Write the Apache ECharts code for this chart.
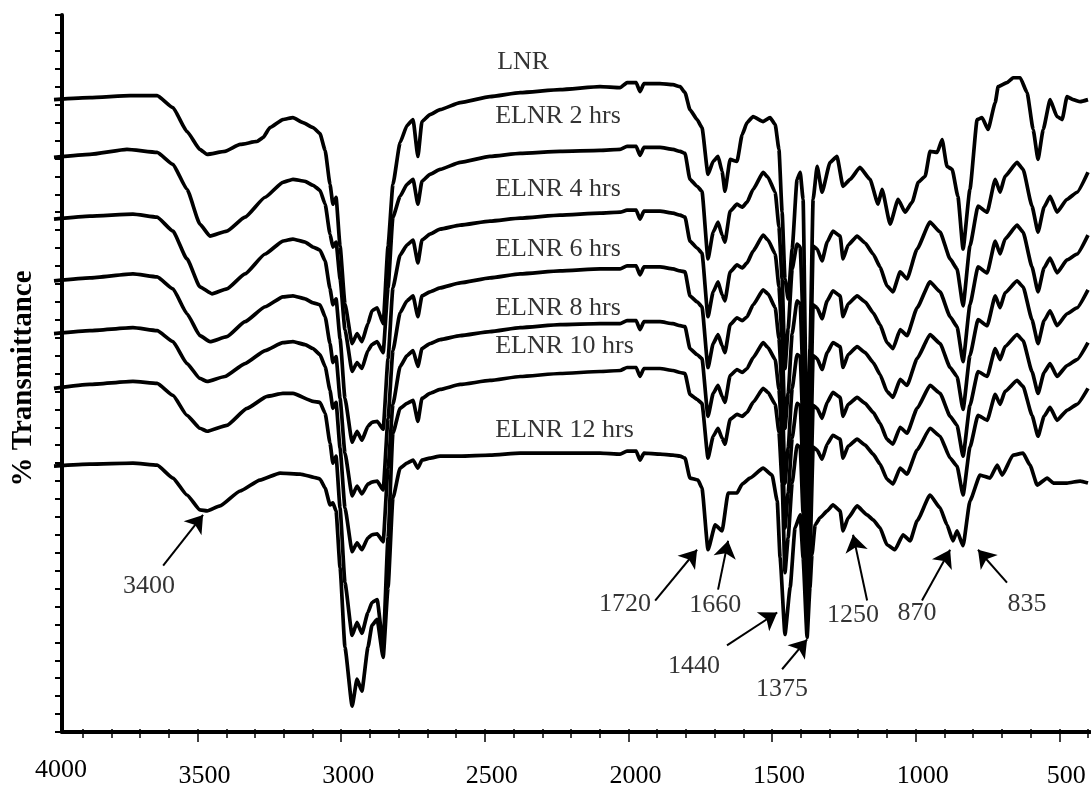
<!DOCTYPE html>
<html>
<head>
<meta charset="utf-8">
<title>FTIR spectra of LNR and ELNR</title>
<script src="https://cdn.jsdelivr.net/npm/echarts@6/dist/echarts.min.js"></script>
<style>
  html, body { margin: 0; padding: 0; background: #fff; }
  #chart { width: 1091px; height: 789px; }
</style>
</head>
<body>
<div id="chart"></div>
<script>
// FTIR spectra, wavenumber (cm-1) vs transmittance (a.u., spectra stacked with offsets)
const LNR = [
  [4000,632],[3875,634],[3735,636],[3641,636],[3586,624],[3537,600],[3492,582],[3467,577],[3405,580],[3352,587],
  [3293,590],[3272,594],[3248,604],[3203,612],[3168,614],[3133,609],[3098,604],
  [3074,598],[3056,581],[3039,547],[3029,527],[3018,534],[3004,485],[2987,427],[2962,387],[2945,397],[2928,389],
  [2907,407],[2893,420],[2875,423],[2854,407],[2837,485],[2820,547],[2795,589],[2771,606],[2750,612],[2733,575],
  [2719,610],[2691,617],[2656,622],
  [2586,629],[2482,635],[2377,639],[2238,642],[2099,645],[2029,644],[2005,649],[1973,649],[1960,640],[1946,648],
  [1890,648],[1845,647],[1820,645],
  [1803,639],[1786,622],[1761,612],[1744,604],[1723,557],[1705,570],[1688,575],[1674,560],[1664,540],[1646,572],
  [1622,570],[1604,597],[1587,609],[1566,615],[1531,610],[1507,614],[1489,607],[1476,582],[1465,519],[1455,452],
  [1444,432],[1430,482],[1413,552],[1402,559],[1392,532],[1378,262],[1368,382],[1357,532],[1343,565],
  [1326,539],[1298,569],[1274,575],[1253,545],[1228,552],[1194,564],[1159,552],[1131,527],[1117,542],[1089,507],
  [1061,532],[1037,519],[1012,529],[991,549],[967,555],[950,580],[925,579],[908,592],[891,565],[873,562],
  [853,535],[835,482],[811,542],[786,612],[769,614],[748,602],[723,629],[713,645],[682,649],[661,654],
  [636,654],[612,639],[591,602],[574,572],[556,602],[532,632],[508,615],[490,612],[473,635],[452,632],
  [427,630],[400,632]
];

const ELNR2 = [
  [4000,574],[3875,577],[3746,582],[3641,579],[3586,567],[3537,542],[3492,507],[3457,495],[3398,500],[3335,514],
  [3265,534],[3203,549],[3168,552],[3126,550],[3098,546],
  [3074,541],[3056,527],[3039,497],[3029,484],[3018,489],[3004,452],[2987,401],[2962,359],[2945,368],[2928,362],
  [2907,380],[2893,386],[2875,389],[2854,378],[2837,443],[2820,514],[2795,535],[2771,547],[2750,552],[2733,527],
  [2719,550],[2691,557],[2656,562],
  [2586,569],[2482,575],[2377,578],[2238,580],[2099,581],[2029,582],[2005,585],[1973,585],[1960,576],[1946,584],
  [1890,584],[1845,582],[1820,580],
  [1803,578],[1786,552],[1761,545],[1744,540],[1723,472],[1705,499],[1688,509],[1674,496],[1664,489],[1646,520],
  [1622,527],[1604,524],[1587,529],[1566,542],[1531,559],[1514,554],[1489,539],[1476,504],[1465,452],[1455,362],
  [1444,402],[1430,462],[1413,487],[1402,484],[1392,412],[1378,222],[1368,332],[1357,485],
  [1343,482],[1326,470],[1308,489],[1288,500],[1263,495],[1253,472],[1235,486],[1204,495],[1176,488],[1148,477],
  [1124,464],[1100,445],[1079,439],[1054,459],[1030,452],[995,482],[950,509],[915,499],[880,472],[856,462],
  [835,425],[811,485],[783,525],[751,519],[723,552],[706,539],[689,555],[647,569],[626,562],[595,525],
  [574,499],[553,524],[532,535],[508,519],[473,532],[438,539],[400,559]
];

const ELNR4 = [
  [4000,512],[3875,515],[3725,517],[3641,514],[3586,500],[3537,472],[3492,444],[3450,437],[3398,442],[3335,457],
  [3265,477],[3203,490],[3168,492],[3126,489],[3098,484],
  [3074,481],[3056,470],[3039,442],[3029,426],[3018,432],[3004,392],[2987,332],[2962,288],[2945,299],[2928,290],
  [2907,304],[2893,308],[2875,309],[2854,301],[2837,372],[2820,443],[2795,476],[2771,486],[2750,491],[2733,468],
  [2719,491],[2691,497],[2656,502],
  [2586,506],[2482,510],[2377,513],[2238,516],[2099,518],[2029,519],[2005,521],[1973,521],[1960,512],[1946,520],
  [1890,520],[1845,518],[1820,516],
  [1803,514],[1786,490],[1761,483],[1744,478],[1723,414],[1705,439],[1688,449],[1674,436],[1664,430],[1646,459],
  [1622,466],[1604,463],[1587,468],[1566,480],[1531,496],[1514,491],[1489,477],[1476,444],[1465,392],[1455,302],
  [1444,337],[1430,397],[1413,430],[1402,427],[1392,352],[1378,187],[1368,292],[1357,426],
  [1343,423],[1326,412],[1308,430],[1288,440],[1263,435],[1253,414],[1235,427],[1204,435],[1176,429],[1148,418],
  [1124,406],[1100,388],[1079,382],[1054,401],[1030,395],[995,423],[950,449],[915,439],[880,414],[856,404],
  [835,369],[811,426],[783,464],[751,458],[723,490],[706,477],[689,492],[647,506],[626,499],[595,464],
  [574,439],[553,463],[532,473],[508,458],[473,471],[438,477],[400,496]
];

const ELNR6 = [
  [4000,450],[3875,453],[3725,457],[3641,454],[3586,442],[3537,417],[3492,395],[3457,389],[3398,394],[3335,409],
  [3265,424],[3203,434],[3168,435],[3126,432],[3098,428],
  [3074,426],[3056,414],[3039,387],[3029,368],[3018,374],[3004,332],[2987,277],[2962,234],[2945,244],[2928,236],
  [2907,246],[2893,248],[2875,249],[2854,240],[2837,312],[2820,380],[2795,418],[2771,430],[2750,435],[2733,414],
  [2719,435],[2691,439],[2656,443],
  [2586,448],[2482,453],[2377,457],[2238,460],[2099,462],[2029,462],[2005,465],[1973,465],[1960,456],[1946,464],
  [1890,464],[1845,462],[1820,460],
  [1803,459],[1786,435],[1761,429],[1744,424],[1723,363],[1705,387],[1688,396],[1674,385],[1664,378],[1646,406],
  [1622,413],[1604,410],[1587,414],[1566,426],[1531,441],[1514,437],[1489,423],[1476,392],[1465,340],[1455,247],
  [1444,282],[1430,342],[1413,376],[1402,374],[1392,302],[1378,157],[1368,252],[1357,375],
  [1343,372],[1326,361],[1308,378],[1288,388],[1263,384],[1253,363],[1235,376],[1204,384],[1176,378],[1148,368],
  [1124,356],[1100,339],[1079,333],[1054,351],[1030,345],[995,372],[950,396],[915,387],[880,363],[856,354],
  [835,321],[811,375],[783,411],[751,405],[723,435],[706,423],[689,438],[647,450],[626,444],[595,411],
  [574,387],[553,410],[532,420],[508,405],[473,417],[438,423],[400,441]
];

const ELNR8 = [
  [4000,397],[3875,400],[3725,403],[3641,400],[3586,389],[3537,367],[3492,352],[3467,349],[3405,354],[3335,367],
  [3265,380],[3203,388],[3168,389],[3126,386],[3098,382],
  [3074,376],[3056,364],[3039,340],[3029,322],[3018,328],[3004,282],[2987,222],[2962,178],[2945,187],[2928,180],
  [2907,192],[2893,195],[2875,196],[2854,188],[2837,262],[2820,326],[2795,364],[2771,375],[2750,380],[2733,364],
  [2719,382],[2691,387],[2656,391],
  [2586,395],[2482,399],[2377,403],[2238,406],[2099,407],[2029,407],[2005,410],[1973,410],[1960,401],[1946,409],
  [1890,409],[1845,407],[1820,405],
  [1803,404],[1786,382],[1761,376],[1744,372],[1723,314],[1705,337],[1688,345],[1674,334],[1664,328],[1646,355],
  [1622,361],[1604,358],[1587,362],[1566,373],[1531,388],[1514,383],[1489,371],[1476,341],[1465,292],[1455,202],
  [1444,237],[1430,292],[1413,327],[1402,325],[1392,257],[1378,132],[1368,212],[1357,325],
  [1343,322],[1326,312],[1308,328],[1288,338],[1263,333],[1253,314],[1235,326],[1204,333],[1176,327],[1148,318],
  [1124,307],[1100,291],[1079,286],[1054,303],[1030,297],[995,322],[950,345],[915,337],[880,314],[856,305],
  [835,274],[811,325],[783,359],[751,354],[723,382],[706,371],[689,384],[647,396],[626,390],[595,359],
  [574,337],[553,358],[532,367],[508,354],[473,365],[438,371],[400,388]
];

const ELNR10 = [
  [4000,342],[3875,346],[3725,349],[3641,347],[3586,335],[3537,315],[3492,302],[3467,299],[3398,305],[3328,322],
  [3258,334],[3203,337],[3168,337],[3098,329],
  [3074,328],[3056,317],[3039,287],[3029,267],[3018,274],[3004,222],[2987,147],[2962,94],[2945,107],[2928,96],
  [2907,117],[2893,127],[2875,130],[2854,84],[2837,192],[2820,297],[2795,322],[2771,327],[2750,330],[2733,309],
  [2719,332],[2691,337],[2656,341],
  [2586,346],[2482,350],[2377,354],[2238,357],[2099,359],[2029,360],[2005,363],[1973,363],[1960,354],[1946,362],
  [1890,362],[1845,360],[1820,358],
  [1803,357],[1786,336],[1761,331],[1744,327],[1723,272],[1705,294],[1688,302],[1674,292],[1664,286],[1646,311],
  [1622,316],[1604,314],[1587,318],[1566,328],[1531,342],[1514,338],[1489,326],[1476,298],[1465,247],[1455,157],
  [1444,192],[1430,247],[1413,285],[1402,283],[1392,217],[1378,112],[1368,177],[1357,283],
  [1343,280],[1326,271],[1308,286],[1288,295],[1263,291],[1253,272],[1235,284],[1204,291],[1176,285],[1148,276],
  [1124,266],[1100,251],[1079,246],[1054,262],[1030,256],[995,280],[950,302],[915,294],[880,272],[856,264],
  [835,235],[811,283],[783,315],[751,310],[723,336],[706,326],[689,339],[647,350],[626,344],[595,315],
  [574,294],[553,314],[532,323],[508,310],[473,320],[438,326],[400,342]
];

const ELNR12 = [
  [4000,264],[3875,266],[3725,267],[3641,265],[3586,252],[3537,235],[3492,220],[3467,219],[3422,224],[3352,239],
  [3283,250],[3213,257],[3143,256],[3084,252],
  [3074,251],[3056,242],[3039,225],[3029,227],[3018,219],[3004,162],[2987,82],[2962,23],[2945,50],[2928,38],
  [2907,82],[2893,104],[2875,110],[2854,72],[2837,142],[2820,232],[2795,262],[2771,267],[2750,270],[2733,262],
  [2719,270],[2691,272],[2656,274],
  [2586,274],[2482,275],[2377,277],[2238,277],[2099,277],[2029,276],[2005,279],[1973,279],[1960,270],[1946,277],
  [1890,276],[1845,275],[1820,274],
  [1803,272],[1786,252],[1758,250],[1744,242],[1723,180],[1698,205],[1674,199],[1653,237],[1622,237],[1604,246],
  [1577,252],[1531,262],[1500,255],[1482,229],[1472,172],[1455,95],[1437,142],[1420,202],[1402,215],[1392,172],
  [1378,92],[1368,142],[1361,175],[1350,205],
  [1333,212],[1308,219],[1288,225],[1263,219],[1253,199],[1235,212],[1204,224],[1169,215],[1148,210],[1124,202],
  [1100,185],[1072,180],[1044,195],[1019,189],[995,209],[950,235],[915,222],[891,205],[870,189],[856,199],
  [835,184],[811,229],[776,255],[741,252],[716,265],[699,255],[661,275],[626,277],[602,265],[577,245],
  [542,252],[521,247],[473,247],[427,249],[400,247]
];

const spectra = [LNR, ELNR2, ELNR4, ELNR6, ELNR8, ELNR10, ELNR12];
const spectrumNames = ['LNR', 'ELNR 2 hrs', 'ELNR 4 hrs', 'ELNR 6 hrs', 'ELNR 8 hrs', 'ELNR 10 hrs', 'ELNR 12 hrs'];
// where each spectrum's name is written (wavenumber, transmittance)
const spectrumNameAt = [[2457,670],[2464,615],[2464,542],[2464,482],[2464,423],[2464,384],[2464,300]];

// band assignments: text anchor and arrow from tail to tip
const bandText = ['3400', '1720', '1660', '1440', '1375', '1250', '870', '835'];
const bandTextAt = [[3669,143],[2012,125],[1698,124],[1772,63],[1465,40],[1218,114],[995,116],[612,125]];
const bandArrowFrom = [[3620,164],[1907,129],[1688,140],[1657,84],[1465,60],[1169,129],[978,129],[682,147]];
const bandArrowTo = [[3481,215],[1761,180],[1653,189],[1482,117],[1378,90],[1218,195],[880,180],[783,180]];

const xTickLabels = [4000, 3500, 3000, 2500, 2000, 1500, 1000, 500];
const xMajorTicks = [3500, 3000, 2500, 2000, 1500, 1000, 500];

const minorTicks = [];
for (let w = 3900; w >= 400; w -= 100) minorTicks.push(w);

const serif = '"Liberation Serif", "Times New Roman", Times, serif';
const ink = '#000';

const textStyle = {
  color: ink,
  fontFamily: serif,
  fontSize: 26,
  textBorderWidth: 0,
  textShadowBlur: 0
};

const lineSeries = spectra.map((data, i) => ({
  name: spectrumNames[i],
  type: 'line',
  xAxisIndex: 0,
  yAxisIndex: 0,
  data: data,
  showSymbol: false,
  symbol: 'none',
  smooth: 0.15,
  smoothMonotone: 'x',
  lineStyle: { color: ink, width: 3.7 },
  silent: true,
  z: 3
}));

const nameSeries = {
  type: 'scatter',
  xAxisIndex: 0,
  yAxisIndex: 0,
  symbolSize: 1,
  itemStyle: { color: 'rgba(0,0,0,0)' },
  silent: true,
  data: spectrumNames.map((n, i) => ({ name: n, value: spectrumNameAt[i] })),
  label: Object.assign({
    show: true,
    position: 'inside',
    align: 'left',
    verticalAlign: 'middle',
    formatter: '{b}'
  }, textStyle),
  z: 5
};

const bandTextSeries = {
  type: 'scatter',
  xAxisIndex: 0,
  yAxisIndex: 0,
  symbolSize: 1,
  itemStyle: { color: 'rgba(0,0,0,0)' },
  silent: true,
  data: bandText.map((t, i) => ({ name: t, value: bandTextAt[i] })),
  label: Object.assign({
    show: true,
    position: 'inside',
    align: 'center',
    verticalAlign: 'middle',
    formatter: '{b}'
  }, textStyle),
  z: 5
};

// arrows pointing from each band label to its absorption
const bandArrowSeries = {
  type: 'line',
  xAxisIndex: 0,
  yAxisIndex: 0,
  data: [],
  silent: true,
  markLine: {
    silent: true,
    animation: false,
    symbol: ['none', 'arrow'],
    symbolSize: 17,
    label: { show: false },
    itemStyle: { color: ink },
    lineStyle: { color: ink, width: 2, type: 'solid' },
    emphasis: { disabled: true },
    data: bandArrowFrom.map((p, i) => [{ coord: p }, { coord: bandArrowTo[i] }])
  },
  z: 5
};

const option = {
  animation: false,
  backgroundColor: '#fff',
  grid: [
    { left: 54, right: 3, top: 15, bottom: 57 },
    { left: 62, right: 1, top: 15, bottom: 57 }
  ],
  xAxis: [
    {
      gridIndex: 0, type: 'value', min: 400, max: 4000, inverse: true, position: 'bottom',
      axisLine: { show: false },
      splitLine: { show: false },
      axisTick: { show: true, customValues: minorTicks, length: 9, lineStyle: { color: ink, width: 1.5 } },
      axisLabel: { show: false }
    },
    {
      gridIndex: 0, type: 'value', min: 400, max: 4000, inverse: true, position: 'bottom', offset: 0,
      axisLine: { show: false },
      splitLine: { show: false },
      axisTick: { show: true, customValues: xMajorTicks, length: 13, lineStyle: { color: ink, width: 1.5 } },
      axisLabel: {
        show: true, customValues: xTickLabels, margin: 34, color: ink,
        fontFamily: serif, fontSize: 26, padding: [0, 0, 0, 14],
        // the left-most label sits a little higher than the rest
        formatter: (v) => (v === 4000 ? '{hi|' + v + '}' : String(v)),
        rich: {
          hi: { fontFamily: serif, fontSize: 26, color: ink, lineHeight: 14 }
        }
      }
    },
    {
      gridIndex: 1, type: 'value', min: 0, max: 1,
      axisLine: { show: true, onZero: false, lineStyle: { color: ink, width: 4 } },
      axisTick: { show: false }, axisLabel: { show: false }, splitLine: { show: false }
    }
  ],
  yAxis: [
    { gridIndex: 0, type: 'value', min: 0, max: 717, show: false },
    {
      gridIndex: 1, type: 'value', min: 0, max: 40, interval: 1,
      axisLine: { show: true, onZero: false, lineStyle: { color: ink, width: 4 } },
      axisTick: { show: true, length: 7, lineStyle: { color: ink, width: 2 } },
      axisLabel: { show: false },
      splitLine: { show: false },
      name: '% Transmittance',
      nameLocation: 'middle',
      nameGap: 24,
      nameTextStyle: {
        color: ink, fontFamily: serif, fontSize: 29, fontWeight: 'bold',
        padding: [0, 10, 0, 0]
      }
    }
  ],
  series: lineSeries.concat([nameSeries, bandTextSeries, bandArrowSeries])
};

const chart = echarts.init(document.getElementById('chart'), null, { renderer: 'canvas' });
chart.setOption(option);
</script>
</body>
</html>
